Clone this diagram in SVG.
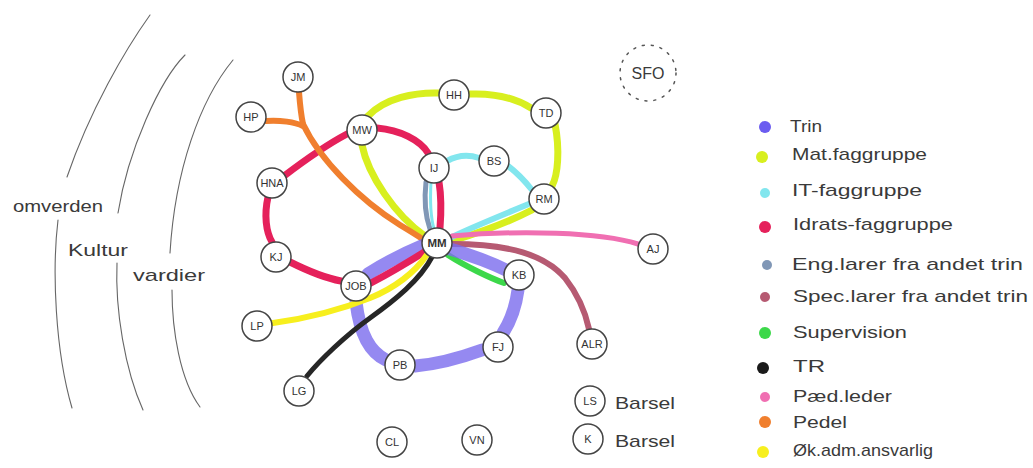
<svg xmlns="http://www.w3.org/2000/svg" width="1033" height="468" viewBox="0 0 1033 468">
<style>
.arc{fill:none;stroke:#666;stroke-width:1.1;stroke-linecap:round}
.c{fill:none;stroke-linecap:round;stroke-linejoin:round}
.trin{stroke:#7a6cee;stroke-width:13;opacity:.8}
.mat{stroke:#d8ef1f;stroke-width:7}
.it{stroke:#82e6ee;stroke-width:6}
.idr{stroke:#e5215b;stroke-width:7}
.eng{stroke:#8097b6;stroke-width:5}
.spec{stroke:#b65a72;stroke-width:6}
.sup{stroke:#3cd84a;stroke-width:6}
.tr{stroke:#262626;stroke-width:5}
.paed{stroke:#f06fb2;stroke-width:5}
.pedel{stroke:#f07f2e;stroke-width:6}
.ok{stroke:#f7ef1e;stroke-width:6}
.n circle{fill:#fff;stroke:#444;stroke-width:1.5}
.n text{font-family:"Liberation Sans",Arial,sans-serif;font-size:11px;fill:#333;text-anchor:middle}
.t{font-family:"Liberation Sans",Arial,sans-serif;font-size:17px;fill:#3a3a3a}
.dot{stroke:none}
</style>
<rect width="1033" height="468" fill="#fff"/>
<g id="rings">
<path class="arc" d="M 150 15 C 125 50 90 110 67 177"/>
<path class="arc" d="M 58 220 C 52 270 55 350 72 408"/>
<path class="arc" d="M 185 55 C 160 80 128 150 118 213"/>
<path class="arc" d="M 117 263 C 115 310 125 370 143 410"/>
<path class="arc" d="M 233 60 C 200 100 175 170 170 253"/>
<path class="arc" d="M 172 290 C 172 330 180 380 200 407"/>
<text class="t" x="13" y="212" textLength="90" lengthAdjust="spacingAndGlyphs">omverden</text>
<text class="t" x="68" y="256" textLength="60" lengthAdjust="spacingAndGlyphs">Kultur</text>
<text class="t" x="133" y="281" textLength="72" lengthAdjust="spacingAndGlyphs">vardier</text>
</g>
<g id="connectors">
<path class="c mat" d="M 368 116 C 385 98 415 92 440 93"/>
<path class="c mat" d="M 470 94 C 495 93 515 98 531 108"/>
<path class="c mat" d="M 555 124 C 560 150 558 175 552 186"/>
<path class="c mat" d="M 532 210 C 505 224 475 234 452 241"/>
<path class="c mat" d="M 362 145 C 368 175 395 215 425 236"/>
<path class="c it" d="M 447 161 C 458 155 470 155 479 158"/>
<path class="c it" d="M 508 166 C 520 175 528 185 532 190"/>
<path class="c it" d="M 531 203 C 505 214 470 228 452 237"/>
<path class="c eng" d="M 426 182 C 424 200 425 215 430 229"/>
<path class="c it" d="M 431 182 C 430 200 430 215 434 229" style="stroke-width:3"/>
<path class="c idr" d="M 284 176 C 305 160 330 143 347 134"/>
<path class="c idr" d="M 377 128 C 400 130 420 140 428 153"/>
<path class="c idr" d="M 439 182 C 442 200 441 215 440 228"/>
<path class="c idr" d="M 268 197 C 264 215 266 232 272 242"/>
<path class="c idr" d="M 290 262 C 310 272 325 278 341 281"/>
<path class="c pedel" d="M 299 92 C 300 105 301 115 303 124"/>
<path class="c pedel" d="M 266 121 C 280 120 295 122 303 126"/>
<path class="c pedel" d="M 303 124 C 320 160 360 200 400 225 C 410 231 418 236 424 240"/>
<path class="c paed" d="M 452 236 C 520 230 600 232 638 244"/>
<path class="c spec" d="M 452 244 C 510 244 545 255 565 278 C 580 297 586 315 589 329"/>
<path class="c sup" d="M 448 255 C 465 266 490 278 504 283"/>
<path class="c trin" d="M 450 249 C 470 255 490 262 506 270"/>
<path class="c trin" d="M 518 290 C 516 305 510 322 503 333"/>
<path class="c trin" d="M 482 350 C 460 358 440 364 415 366"/>
<path class="c trin" d="M 386 360 C 370 352 360 335 356 302"/>
<path class="c trin" d="M 368 274 C 385 263 405 253 424 245"/>
<path class="c idr" d="M 371 283 C 390 273 410 261 426 251"/>
<path class="c ok" d="M 273 323 C 310 318 340 310 370 298 C 395 288 415 272 426 256"/>
<path class="c tr" d="M 432 257 C 420 280 395 300 370 318 C 345 336 320 360 307 376"/>
</g>
<g id="node-JM" class="n"><circle cx="298" cy="77" r="15"/><text x="298" y="81">JM</text></g>
<g id="node-HP" class="n"><circle cx="251" cy="117" r="15"/><text x="251" y="121">HP</text></g>
<g id="node-MW" class="n"><circle cx="362" cy="130" r="15"/><text x="362" y="134">MW</text></g>
<g id="node-HH" class="n"><circle cx="454" cy="95" r="15"/><text x="454" y="99">HH</text></g>
<g id="node-TD" class="n"><circle cx="546" cy="113" r="15"/><text x="546" y="117">TD</text></g>
<g id="node-IJ" class="n"><circle cx="434" cy="168" r="15"/><text x="434" y="172">IJ</text></g>
<g id="node-BS" class="n"><circle cx="494" cy="161" r="15"/><text x="494" y="165">BS</text></g>
<g id="node-RM" class="n"><circle cx="544" cy="199" r="15"/><text x="544" y="203">RM</text></g>
<g id="node-HNA" class="n"><circle cx="272" cy="183" r="15"/><text x="272" y="187">HNA</text></g>
<g id="node-KJ" class="n"><circle cx="276" cy="257" r="15"/><text x="276" y="261">KJ</text></g>
<g id="node-MM" class="n"><circle cx="437" cy="243" r="15"/><text x="437" y="247" style="font-weight:bold;font-size:11.5px">MM</text></g>
<g id="node-AJ" class="n"><circle cx="653" cy="249" r="15"/><text x="653" y="253">AJ</text></g>
<g id="node-JOB" class="n"><circle cx="356" cy="286" r="15"/><text x="356" y="290">JOB</text></g>
<g id="node-KB" class="n"><circle cx="519" cy="275" r="15"/><text x="519" y="279">KB</text></g>
<g id="node-LP" class="n"><circle cx="257" cy="326" r="15"/><text x="257" y="330">LP</text></g>
<g id="node-PB" class="n"><circle cx="400" cy="365" r="15"/><text x="400" y="369">PB</text></g>
<g id="node-FJ" class="n"><circle cx="498" cy="347" r="15"/><text x="498" y="351">FJ</text></g>
<g id="node-ALR" class="n"><circle cx="592" cy="344" r="15"/><text x="592" y="348">ALR</text></g>
<g id="node-LG" class="n"><circle cx="299" cy="391" r="15"/><text x="299" y="395">LG</text></g>
<g id="node-LS" class="n"><circle cx="590" cy="401" r="15"/><text x="590" y="405">LS</text></g>
<g id="node-K" class="n"><circle cx="588" cy="439" r="15"/><text x="588" y="443">K</text></g>
<g id="node-CL" class="n"><circle cx="392" cy="442" r="15"/><text x="392" y="446">CL</text></g>
<g id="node-VN" class="n"><circle cx="477" cy="440" r="15"/><text x="477" y="444">VN</text></g>
<g id="node-SFO"><circle cx="648" cy="73" r="28" fill="none" stroke="#555" stroke-width="1.5" stroke-dasharray="2 7" stroke-linecap="round"/><text x="648" y="79" class="t" style="font-size:16px" text-anchor="middle">SFO</text></g>
<text class="t" x="615" y="409" textLength="60" lengthAdjust="spacingAndGlyphs">Barsel</text>
<text class="t" x="615" y="447" textLength="60" lengthAdjust="spacingAndGlyphs">Barsel</text>
<g id="legend">
<circle class="dot" cx="765" cy="127" r="6" fill="#6b5cf0"/>
<text class="t" x="790" y="132" textLength="32" lengthAdjust="spacingAndGlyphs">Trin</text>
<circle class="dot" cx="762" cy="157" r="6" fill="#d8ef1f"/>
<text class="t" x="792" y="160" textLength="135" lengthAdjust="spacingAndGlyphs">Mat.faggruppe</text>
<circle class="dot" cx="765" cy="193" r="5" fill="#82e6ee"/>
<text class="t" x="792" y="196" textLength="130" lengthAdjust="spacingAndGlyphs">IT-faggruppe</text>
<circle class="dot" cx="765" cy="227" r="6" fill="#e5215b"/>
<text class="t" x="793" y="230" textLength="160" lengthAdjust="spacingAndGlyphs">Idrats-faggruppe</text>
<circle class="dot" cx="767" cy="265" r="5" fill="#8097b6"/>
<text class="t" x="792" y="270" textLength="231" lengthAdjust="spacingAndGlyphs">Eng.larer fra andet trin</text>
<circle class="dot" cx="765" cy="297" r="5" fill="#b65a72"/>
<text class="t" x="793" y="302" textLength="235" lengthAdjust="spacingAndGlyphs">Spec.larer fra andet trin</text>
<circle class="dot" cx="765" cy="333" r="6" fill="#3cd84a"/>
<text class="t" x="793" y="338" textLength="114" lengthAdjust="spacingAndGlyphs">Supervision</text>
<circle class="dot" cx="763" cy="368" r="6" fill="#1a1a1a"/>
<text class="t" x="793" y="372" textLength="32" lengthAdjust="spacingAndGlyphs">TR</text>
<circle class="dot" cx="765" cy="397" r="5" fill="#f06fb2"/>
<text class="t" x="793" y="402" textLength="99" lengthAdjust="spacingAndGlyphs">Pæd.leder</text>
<circle class="dot" cx="765" cy="422" r="6" fill="#f07f2e"/>
<text class="t" x="793" y="428" textLength="54" lengthAdjust="spacingAndGlyphs">Pedel</text>
<circle class="dot" cx="763" cy="452" r="6" fill="#f7ef1e"/>
<text class="t" x="793" y="456" textLength="140" lengthAdjust="spacingAndGlyphs">Øk.adm.ansvarlig</text>
</g>
</svg>
